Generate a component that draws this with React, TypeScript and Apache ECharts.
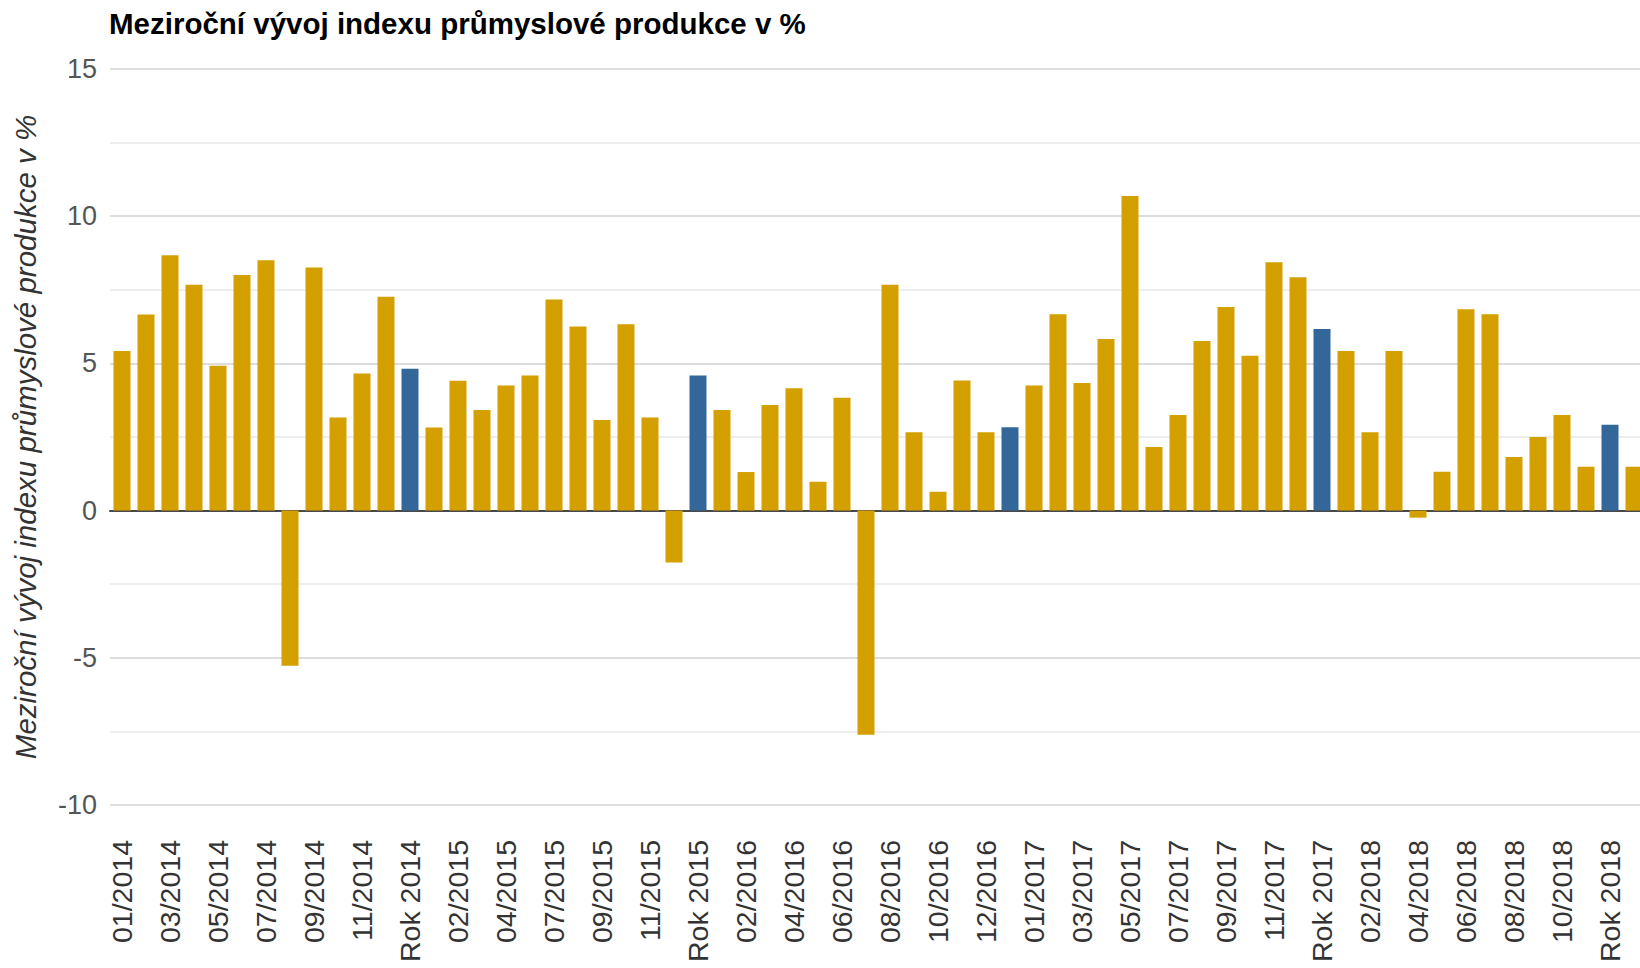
import React, { useEffect, useRef } from "react";
import * as echarts from "echarts";

const chartTitle = "Meziroční vývoj indexu průmyslové produkce v %";
const yAxisName = "Meziroční vývoj indexu průmyslové produkce v %";

const categories = [
  "01/2014", "02/2014", "03/2014", "04/2014", "05/2014", "06/2014", "07/2014", "08/2014", "09/2014", "10/2014", "11/2014", "12/2014", "Rok 2014",
  "01/2015", "02/2015", "03/2015", "04/2015", "05/2015", "07/2015", "08/2015", "09/2015", "10/2015", "11/2015", "12/2015", "Rok 2015",
  "01/2016", "02/2016", "03/2016", "04/2016", "05/2016", "06/2016", "07/2016", "08/2016", "09/2016", "10/2016", "11/2016", "12/2016", "Rok 2016",
  "01/2017", "02/2017", "03/2017", "04/2017", "05/2017", "06/2017", "07/2017", "08/2017", "09/2017", "10/2017", "11/2017", "12/2017", "Rok 2017",
  "01/2018", "02/2018", "03/2018", "04/2018", "05/2018", "06/2018", "07/2018", "08/2018", "09/2018", "10/2018", "11/2018", "Rok 2018",
  "01/2019",
];

const values = [
  5.42, 6.66, 8.67, 7.67, 4.92, 8.0, 8.5, -5.27, 8.26, 3.16, 4.66, 7.26, 4.82,
  2.82, 4.41, 3.42, 4.25, 4.59, 7.17, 6.25, 3.08, 6.33, 3.16, -1.76, 4.59,
  3.42, 1.31, 3.59, 4.16, 0.98, 3.83, -7.61, 7.67, 2.66, 0.64, 4.42, 2.66, 2.83,
  4.25, 6.67, 4.33, 5.83, 10.69, 2.16, 3.25, 5.76, 6.92, 5.26, 8.44, 7.93, 6.17,
  5.42, 2.66, 5.42, -0.24, 1.32, 6.84, 6.67, 1.82, 2.5, 3.25, 1.49, 2.92,
  1.49,
];

const yMin = -10;
const yMax = 15;
const yInterval = 5;

const monthColor = "#D4A000";
const yearColor = "#336699";
const FONT = "'Liberation Sans', Arial, sans-serif";

export default function App() {
  const ref = useRef<HTMLDivElement>(null);

  useEffect(() => {
    if (!ref.current) return;
    const chart = echarts.init(ref.current, null, { renderer: "svg" });
    chart.setOption({
      animation: false,
      backgroundColor: "#ffffff",
      title: {
        text: chartTitle,
        left: 109,
        top: 8,
        padding: 0,
        textStyle: {
          fontFamily: FONT,
          fontSize: 29.5,
          fontWeight: "bold",
          color: "#000000",
        },
      },
      grid: {
        left: 110,
        right: 14,
        top: 69,
        bottom: 163,
        containLabel: false,
      },
      xAxis: {
        type: "category",
        data: categories,
        boundaryGap: true,
        axisLine: {
          show: true,
          onZero: true,
          lineStyle: { color: "#4a4a4a", width: 2 },
        },
        axisTick: { show: false },
        axisLabel: {
          interval: 1,
          rotate: 90,
          fontFamily: FONT,
          fontSize: 28.5,
          color: "#333333",
          margin: 35,
        },
        splitLine: { show: false },
      },
      yAxis: {
        type: "value",
        min: yMin,
        max: yMax,
        interval: yInterval,
        name: yAxisName,
        nameLocation: "middle",
        nameGap: 70,
        nameTextStyle: {
          fontFamily: FONT,
          fontSize: 29.5,
          fontStyle: "italic",
          color: "#333333",
        },
        axisLine: { show: false },
        axisTick: { show: false },
        axisLabel: {
          fontFamily: FONT,
          fontSize: 27,
          color: "#555555",
          margin: 13,
        },
        splitLine: {
          show: true,
          lineStyle: { color: "#d2d2d2", width: 1.5 },
        },
        minorTick: { show: false, splitNumber: 2 },
        minorSplitLine: {
          show: true,
          lineStyle: { color: "#e8e8e8", width: 1.5 },
        },
      },
      series: [
        {
          type: "bar",
          barWidth: 17,
          data: values.map((v, i) => ({
            value: v,
            itemStyle: {
              color: categories[i].startsWith("Rok") ? yearColor : monthColor,
            },
          })),
        },
      ],
    });
    return () => chart.dispose();
  }, []);

  return (
    <div
      style={{
        position: "fixed",
        left: 0,
        top: 0,
        width: 1640,
        height: 968,
        overflow: "hidden",
        background: "#ffffff",
      }}
    >
      <div ref={ref} style={{ width: 1660, height: 968 }} />
    </div>
  );
}
